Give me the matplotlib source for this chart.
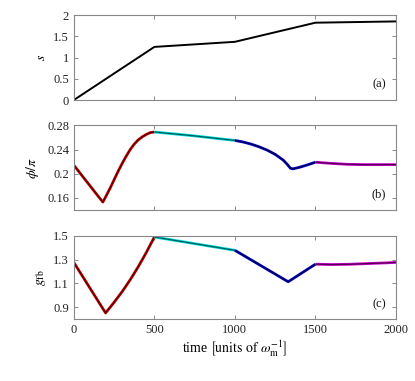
import matplotlib
matplotlib.use('Agg')
from matplotlib import pyplot as plt

plt.rcParams['font.family'] = ['Liberation Serif', 'DejaVu Serif']
plt.rcParams['mathtext.fontset'] = 'stix'

# panel (a): s
t_s = [0, 500, 1000, 1500, 2000]
s_vals = [0.0, 1.25, 1.37, 1.82, 1.85]

# panel (b): phi/pi, four segments
t_phi_1 = [0, 50, 100, 150, 180, 200, 225, 250, 275, 300, 325, 350, 375,
           400, 425, 450, 475, 500]
phi_1 = [0.214, 0.197, 0.180, 0.163, 0.153, 0.163, 0.176, 0.190, 0.204, 0.217,
         0.229, 0.240, 0.249, 0.256, 0.261, 0.265, 0.268, 0.269]
t_phi_2 = [500, 750, 1000]
phi_2 = [0.269, 0.2625, 0.255]
t_phi_3 = [1000, 1050, 1100, 1150, 1200, 1250, 1300, 1325, 1345, 1360, 1400,
           1450, 1500]
phi_3 = [0.255, 0.2525, 0.249, 0.2445, 0.239, 0.232, 0.2225, 0.2155, 0.209,
         0.208, 0.2105, 0.2145, 0.219]
t_phi_4 = [1500, 1550, 1600, 1700, 1800, 2000]
phi_4 = [0.219, 0.218, 0.217, 0.2155, 0.215, 0.215]

# panel (c): g_fb, four segments
t_g_1 = [0, 197, 250, 300, 350, 400, 450, 500]
g_1 = [1.275, 0.85, 0.94, 1.03, 1.13, 1.24, 1.36, 1.49]
t_g_2 = [500, 1000]
g_2 = [1.49, 1.378]
t_g_3 = [1000, 1331, 1500]
g_3 = [1.378, 1.113, 1.261]
t_g_4 = [1500, 1600, 1700, 1800, 1900, 2000]
g_4 = [1.261, 1.258, 1.260, 1.265, 1.270, 1.276]

# (outer colour, inner colour) for each segment
seg_colors = [('#cc0000', '#500000'), ('#00dcdc', '#005c5c'),
              ('#0000d0', '#000050'), ('#d000d0', '#500050')]

fig = plt.figure(figsize=(4.15, 3.81), dpi=100)
ax_a = fig.add_axes([0.178, 0.7375, 0.776, 0.223])
ax_b = fig.add_axes([0.178, 0.449, 0.776, 0.222])
ax_c = fig.add_axes([0.178, 0.163, 0.776, 0.218])


def draw_seg(ax, t, y, cols):
    ax.plot(t, y, color=cols[0], lw=2.0, solid_capstyle='butt')
    ax.plot(t, y, color=cols[1], lw=0.9, solid_capstyle='butt')


ax_a.plot(t_s, s_vals, color='black', lw=1.4)

for t, y, c in zip([t_phi_1, t_phi_2, t_phi_3, t_phi_4],
                   [phi_1, phi_2, phi_3, phi_4], seg_colors):
    draw_seg(ax_b, t, y, c)

for t, y, c in zip([t_g_1, t_g_2, t_g_3, t_g_4],
                   [g_1, g_2, g_3, g_4], seg_colors):
    draw_seg(ax_c, t, y, c)

ax_a.set_ylim(0, 2)
ax_a.set_yticks([0, 0.5, 1, 1.5, 2])
ax_a.set_yticklabels(['0', '0.5', '1', '1.5', '2'])
ax_b.set_ylim(0.14, 0.28)
ax_b.set_yticks([0.16, 0.2, 0.24, 0.28])
ax_b.set_yticklabels(['0.16', '0.2', '0.24', '0.28'])
ax_c.set_ylim(0.8, 1.5)
ax_c.set_yticks([0.9, 1.1, 1.3, 1.5])
ax_c.set_yticklabels(['0.9', '1.1', '1.3', '1.5'])

ax_a.set_ylabel(r'$s$', fontsize=10, labelpad=4)
ax_b.set_ylabel(r'$\phi/\pi$', fontsize=10, labelpad=4)
ax_c.set_ylabel(r'$g_{\rm fb}$', fontsize=10, labelpad=4)
ax_c.set_xlabel(r'time $\left[\mathrm{units\ of\ }\omega_{\rm m}^{-1}\right]$',
                fontsize=10, labelpad=2)

for ax, lab in zip([ax_a, ax_b, ax_c], ['(a)', '(b)', '(c)']):
    ax.set_xlim(0, 2000)
    ax.set_xticks([0, 500, 1000, 1500, 2000])
    ax.tick_params(direction='in', top=True, right=True, length=3,
                   width=0.6, color='#777777', labelsize=9,
                   labelcolor='#222222')
    for sp in ax.spines.values():
        sp.set_color('#888888')
        sp.set_linewidth(0.8)
    ax.text(0.947, 0.18, lab, transform=ax.transAxes, fontsize=9,
            ha='center', va='center', color='#111111')

ax_a.set_xticklabels([])
ax_b.set_xticklabels([])

fig.savefig('out.png', dpi=100)
